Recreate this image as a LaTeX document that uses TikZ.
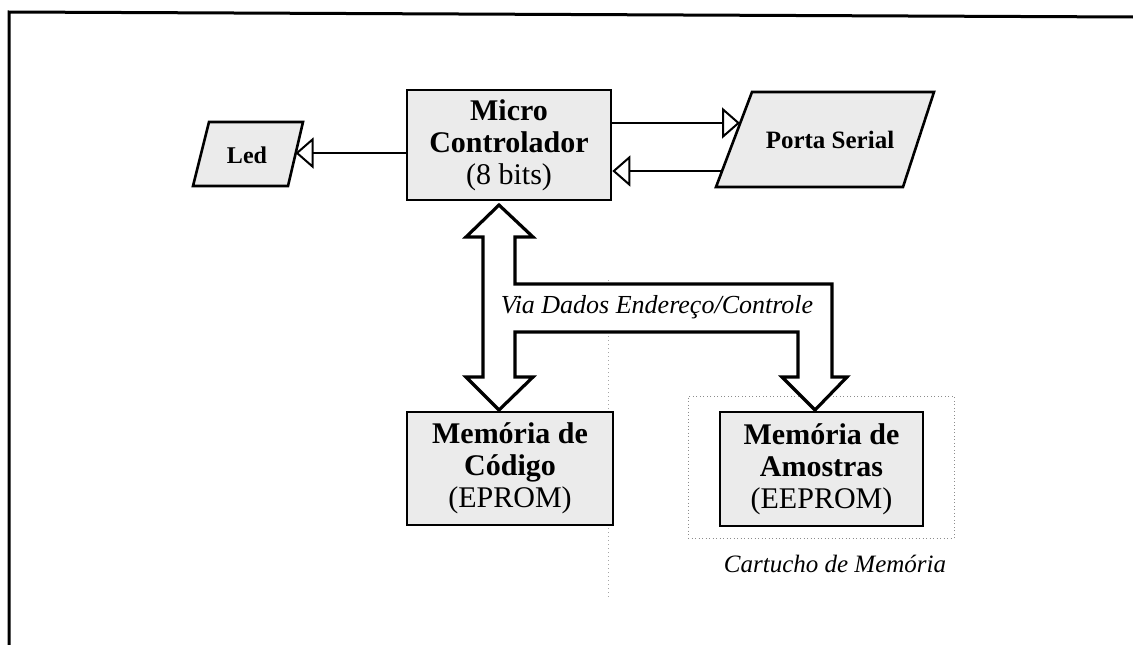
\documentclass[tikz,border=0pt]{standalone}
\usepackage{fontspec}
\setmainfont{Liberation Serif}
\usetikzlibrary{arrows.meta,calc}
\begin{document}
\begin{tikzpicture}[x=1pt,y=-1pt,
  blk/.style={draw, line width=2.6pt, fill=black!8, align=center, inner sep=0pt,
              font=\fontsize{30}{32}\selectfont},
  para/.style={draw, line width=2.6pt, fill=black!8, line join=miter},
  conn/.style={line width=2pt, -{Triangle[open, length=18pt, width=31pt]}},
  bus/.style={draw, line width=3.2pt, fill=white, line join=miter},
  lbl/.style={inner sep=0pt, font=\itshape\fontsize{26}{28}\selectfont},
  guide/.style={draw=black!35, line width=0.8pt, dash pattern=on 1pt off 3pt}
]
\useasboundingbox (0,0) rectangle (1133,645);

% outer frame (top and left only)
\draw[line width=3pt] (9,645) -- (9,12) -- (1133,17);

% faint guide line
\draw[guide] (608,280) -- (608,600);

% Led parallelogram
\draw[para] (193,186) -- (209,122) -- (303,122) -- (288,186) -- cycle;
\node[inner sep=0pt, font=\bfseries\fontsize{24}{26}\selectfont] (led) at (247,155) {Led};
\coordinate (ledE) at (295.5,153);

% Porta Serial parallelogram
\draw[para] (716,187) -- (752,92) -- (934,92) -- (903,187) -- cycle;
\node[inner sep=0pt, font=\bfseries\fontsize{25}{27}\selectfont] (porta) at (830,140) {Porta Serial};
\coordinate (pA) at (740,123);
\coordinate (pB) at (722,171);

% Micro controlador
\node[blk, minimum width=204pt, minimum height=110pt] (mc) at (509,145)
  {\textbf{Micro}\\\textbf{Controlador}\\(8 bits)};

% connectors
\draw[conn] (mc.west |- ledE) -- (ledE);
\draw[conn] (mc.east |- pA) -- (pA);
\draw[conn] (pB) -- (mc.east |- pB);

% cartucho (dotted)
\node[draw=black!45, line width=1pt, dash pattern=on 1pt off 2.5pt,
      minimum width=266pt, minimum height=142pt, inner sep=0pt] (cart) at (821,467) {};
\node[lbl, font=\itshape\fontsize{25}{27}\selectfont, anchor=base] (cartlbl) at (835,572) {Cartucho de Memória};

% memories
\node[blk, minimum width=206pt, minimum height=113pt] (memc) at (510,468.5)
  {\textbf{Memória de}\\\textbf{Código}\\(EPROM)};
\node[blk, minimum width=203pt, minimum height=114pt] (mema) at (821.5,469)
  {\textbf{Memória de}\\\textbf{Amostras}\\(EEPROM)};

% bus (big arrows)
\draw[bus] (499,205) -- (533,237) -- (515,237) -- (515,284) -- (832,284)
  -- (832,377) -- (847,377) -- (815,410) -- (782,377) -- (798,377)
  -- (798,332) -- (515,332) -- (515,377) -- (533,377) -- (499,410)
  -- (466,377) -- (483,377) -- (483,237) -- (466,237) -- cycle;
\node[lbl] (buslbl) at (657,307) {Via Dados Endereço/Controle};
\end{tikzpicture}
\end{document}
